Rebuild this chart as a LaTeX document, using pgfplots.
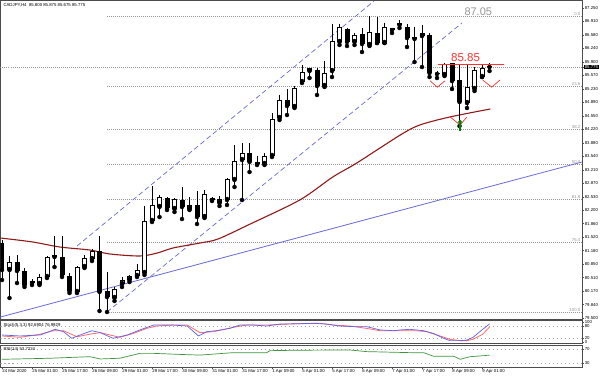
\documentclass[border=0pt]{standalone}
\usepackage{pgfplots}
\pgfplotsset{compat=1.18}
\usepackage{pgfplotstable}
\usepackage{fontspec}
\setmainfont{Liberation Sans}
\usetikzlibrary{arrows.meta}

\definecolor{chblue}{RGB}{105,105,215}
\definecolor{marun}{RGB}{145,25,25}
\definecolor{stblue}{RGB}{95,95,235}
\definecolor{stred}{RGB}{255,105,105}
\definecolor{rsigreen}{RGB}{60,150,60}
\definecolor{fibgray}{RGB}{150,150,150}
\definecolor{sigred}{RGB}{250,50,50}

\pgfplotstableread{
i O H L C
0 81.375 81.45 80.45 80.70
1 80.70 81.05 80.00 80.90
2 80.90 81.075 80.375 80.675
3 80.675 80.75 80.275 80.325
4 80.425 80.475 80.325 80.375
5 80.35 80.60 80.325 80.525
6 80.525 81.05 80.50 81.025
7 81.025 81.55 80.775 81.075
8 81.025 81.55 80.525 80.575
9 80.55 80.625 80.125 80.175
10 80.15 80.80 80.125 80.775
11 80.775 81.075 80.75 81.00
12 80.975 81.225 80.925 81.175
13 81.175 81.55 79.675 80.15
14 80.175 80.65 79.65 80.025
15 80.00 80.275 79.925 80.225
16 80.35 80.525 80.275 80.45
17 80.45 80.575 80.40 80.55
18 80.55 80.85 80.525 80.70
19 80.625 82.30 80.575 81.925
20 81.925 82.80 81.90 82.325
21 82.275 82.575 82.025 82.525
22 82.50 82.525 82.20 82.25
23 82.225 82.50 82.15 82.475
24 82.45 82.775 81.975 82.275
25 82.225 82.525 82.20 82.325
26 82.325 82.675 81.85 82.025
27 82.025 82.70 82.00 82.60
28 82.50 82.525 82.425 82.45
29 82.375 82.55 82.30 82.475
30 82.45 83.00 82.325 82.975
31 82.95 83.825 82.775 83.425
32 83.45 83.875 82.45 83.625
33 83.625 83.875 83.15 83.40
34 83.40 83.55 83.325 83.35
35 83.35 83.625 83.325 83.55
36 83.55 84.625 83.525 84.475
37 84.50 85.075 84.45 84.95
38 84.95 85.225 84.575 84.80
39 84.775 85.30 84.75 85.25
40 85.40 85.825 85.375 85.65
41 85.675 85.75 85.50 85.75
42 85.70 85.75 85.075 85.30
43 85.30 85.925 85.275 85.625
44 85.675 86.85 85.525 86.425
45 86.40 86.85 86.325 86.775
46 86.725 86.75 86.30 86.40
47 86.40 86.625 86.325 86.575
48 86.60 86.75 86.15 86.35
49 86.325 87.05 86.30 86.65
50 86.625 87.025 86.375 86.375
51 86.375 86.875 86.375 86.775
52 86.70 86.75 86.625 86.75
53 86.825 86.95 86.75 86.875
54 86.775 86.85 86.275 86.50
55 86.475 86.775 85.90 86.525
56 86.55 86.825 85.775 86.625
57 86.575 86.625 85.525 85.625
58 85.625 85.675 85.50 85.60
59 85.575 85.875 85.55 85.85
60 85.875 85.875 85.225 85.425
61 85.45 85.825 84.30 84.90
62 84.875 85.825 84.75 85.275
63 85.225 85.775 85.175 85.70
64 85.525 85.825 85.525 85.75
65 85.80 85.875 85.675 85.775
}\ohlc

\newcommand{\mtfont}{\fontsize{4.3}{5}\selectfont}

\pgfplotsset{
  mtbase/.style={scale only axis, width=581.5pt, xmin=-0.2, xmax=77.33, anchor=south west,
    axis line style={draw=black!70, line width=0.5pt},
    xtick=\empty, ytick pos=right, yticklabel pos=right, tick align=outside,
    major tick length=2pt, tick style={black!70, line width=0.4pt},
    yticklabel style={font=\mtfont, anchor=west, inner sep=0.6pt},
    clip mode=individual},
}

\begin{document}
\begin{tikzpicture}
\fill[white] (0,0) rectangle (600pt,376pt);
\path[use as bounding box] (0,0) rectangle (600pt,376pt);

% ---------------- main price panel ----------------
\begin{axis}[mtbase, at={(0.5pt,56.5pt)}, height=319pt,
  ymin=79.4625, ymax=87.4375,
  ytick={87.250,86.913,86.576,86.239,85.902,85.565,85.228,84.891,84.554,84.217,83.880,83.543,83.206,82.869,82.532,82.195,81.858,81.521,81.184,80.847,80.510,80.173,79.836,79.499},
  yticklabels={87.250,86.910,86.580,86.240,85.900,85.570,85.230,84.890,84.550,84.220,83.880,83.540,83.210,82.870,82.530,82.200,81.860,81.520,81.180,80.850,80.510,80.170,79.840,79.500},
  extra y ticks={85.775}, extra y tick labels={85.775},
  extra y tick style={tick label style={fill=black, text=white, inner sep=0.7pt}},
]
% fibonacci levels
\addplot[fibgray, line width=0.5pt, dash pattern=on 1pt off 1pt] coordinates {(14,87.05) (77.33,87.05)};
\addplot[fibgray, line width=0.5pt, dash pattern=on 1pt off 1pt] coordinates {(14,85.3036) (77.33,85.3036)};
\addplot[fibgray, line width=0.5pt, dash pattern=on 1pt off 1pt] coordinates {(14,84.2232) (77.33,84.2232)};
\addplot[fibgray, line width=0.5pt, dash pattern=on 1pt off 1pt] coordinates {(14,83.35) (77.33,83.35)};
\addplot[fibgray, line width=0.5pt, dash pattern=on 1pt off 1pt] coordinates {(14,82.4768) (77.33,82.4768)};
\addplot[fibgray, line width=0.5pt, dash pattern=on 1pt off 1pt] coordinates {(14,81.3964) (77.33,81.3964)};
\addplot[fibgray, line width=0.5pt, dash pattern=on 1pt off 1pt] coordinates {(14,79.65) (77.33,79.65)};
% current price line
\addplot[fibgray, line width=0.5pt, dash pattern=on 1pt off 1pt] coordinates {(-0.2,85.775) (77.33,85.775)};

% trend line and channel
\addplot[chblue, line width=0.8pt] coordinates {(-0.2,79.525) (77.33,83.40)};
\addplot[chblue, line width=0.7pt, dash pattern=on 5pt off 3pt] coordinates {(10,81.30) (49.6,87.425)};
\addplot[chblue, line width=0.7pt, dash pattern=on 5pt off 3pt] coordinates {(14,79.65) (61.33,86.875)};

% moving average
\addplot[marun, line width=1.1pt, smooth] coordinates {
(-0.2,81.50) (4.1,81.40) (7.7,81.275) (11.7,81.20) (14.4,81.10) (18.4,81.05) (20.7,81.125) (22.8,81.25) (26.4,81.375) (28.8,81.475) (33.1,81.85) (39.7,82.45) (44.1,83.025) (47.3,83.375) (53.1,84.075) (55.7,84.325) (59.7,84.525) (65.1,84.725)};

% candles: wicks
\addplot[only marks, mark=none, forget plot, error bars/.cd, y dir=plus, y explicit, error mark=none,
  error bar style={black, line width=0.9pt}]
  table[x=i, y=L, y error plus expr={\thisrow{H}-\thisrow{L}}] {\ohlc};
% candle bodies (outline / black fill)
\addplot[only marks, mark=none, forget plot, error bars/.cd, y dir=plus, y explicit, error mark=none,
  error bar style={black, line width=5pt}]
  table[x=i, y expr={min(\thisrow{O},\thisrow{C})}, y error plus expr={max(abs(\thisrow{C}-\thisrow{O}),0.025)}] {\ohlc};
% white interiors of rising candles
\addplot[only marks, mark=none, forget plot, restrict expr to domain={\thisrow{C}-\thisrow{O}}{0.051:100},
  error bars/.cd, y dir=plus, y explicit, error mark=none,
  error bar style={white, line width=3pt}]
  table[x=i, y expr={\thisrow{O}+0.025}, y error plus expr={\thisrow{C}-\thisrow{O}-0.05}] {\ohlc};

% signal marks
\addplot[sigred, line width=0.8pt] coordinates {(58.1,85.85) (66.9,85.85)};
\addplot[sigred, line width=0.7pt] coordinates {(57.07,85.43) (58.04,85.27) (59.07,85.43)};
\addplot[sigred, line width=0.7pt] coordinates {(59.73,84.53) (61.07,84.325) (61.96,84.52)};
\addplot[sigred, line width=0.7pt] coordinates {(64.09,85.45) (65.29,85.27) (66.4,85.45)};
\addplot[green!50!black, line width=1.4pt, -{Triangle[width=5pt,length=3pt]}] coordinates {(61.07,84.18) (61.07,84.46)};

% labels
\node[font=\fontsize{11}{12}\selectfont, text=fibgray] at (axis cs:63.5,87.16) {87.05};
\node[font=\fontsize{11.5}{12}\selectfont, text=sigred] at (axis cs:61.8,86.00) {85.85};
\node[font=\mtfont, anchor=west, inner sep=0.5pt] at (rel axis cs:0.004,0.985) {CADJPY,H4\ \ 85.800 85.875 85.675 85.775};
\node[font=\mtfont, text=fibgray, anchor=south east, inner sep=0.6pt] at (axis cs:77.2,87.05) {0.0};
\node[font=\mtfont, text=fibgray, anchor=south east, inner sep=0.6pt] at (axis cs:77.2,85.3036) {23.6};
\node[font=\mtfont, text=fibgray, anchor=south east, inner sep=0.6pt] at (axis cs:77.2,84.2232) {38.2};
\node[font=\mtfont, text=fibgray, anchor=south east, inner sep=0.6pt] at (axis cs:77.2,83.35) {50.0};
\node[font=\mtfont, text=fibgray, anchor=south east, inner sep=0.6pt] at (axis cs:77.2,82.4768) {61.8};
\node[font=\mtfont, text=fibgray, anchor=south east, inner sep=0.6pt] at (axis cs:77.2,81.3964) {76.4};
\node[font=\mtfont, text=fibgray, anchor=south east, inner sep=0.6pt] at (axis cs:77.2,79.65) {100.0};
\end{axis}

% ---------------- stochastic ----------------
\begin{axis}[mtbase, at={(0.5pt,33pt)}, height=22.5pt, ymin=-5.13, ymax=110.3,
  ytick={100,80,20,0}, yticklabels={100,80,20,0}]
\addplot[black!35, line width=0.4pt, dash pattern=on 1.5pt off 2.5pt] coordinates {(-0.2,80) (77.33,80)};
\addplot[black!35, line width=0.4pt, dash pattern=on 1.5pt off 2.5pt] coordinates {(-0.2,20) (77.33,20)};
\addplot[stred, line width=0.8pt] coordinates {(0,31)(2.4,24)(5.1,40)(6.8,58)(8.2,58)(10,27)(11.7,40)(13.1,48)(15.7,24)(17.5,44)(19.3,70)(20.6,82)(22.8,87)(24.7,87)(26.4,48)(28.2,53)(30.8,75)(32.6,87)(35.3,87)(38,92)(39.7,94)(42.4,96)(44.2,87)(46.4,82)(48.6,70)(50.4,58)(53.1,58)(55.3,58)(56.6,53)(58.4,31)(59.7,14)(61.1,7)(62,7)(62.8,14)(64.1,40)(65,77)};
\addplot[stblue, line width=0.7pt] coordinates {(0,36)(2.4,31)(5.1,36)(7.1,65)(8.2,53)(9.3,19)(10.4,36)(12,58)(13.1,48)(14.8,19)(16.7,36)(18.4,62)(20.2,87)(22.8,87)(24.7,82)(26.2,31)(27.3,53)(28.6,58)(30.4,70)(31.7,87)(33.5,87)(35.3,82)(37,92)(39.7,94)(41.5,96)(43.3,92)(45,82)(46.8,79)(48.6,79)(50.4,62)(52.2,58)(53.1,62)(54.4,65)(56.2,58)(57.5,44)(58.9,19)(59.7,7)(61.1,7)(62,10)(62.8,24)(64,62)(65,92.7)};
\node[font=\mtfont, anchor=west, inner sep=0.5pt] at (rel axis cs:0.004,0.78) {Stoch(5,3,3) 92.6904 76.9929};
\end{axis}

% ---------------- RSI ----------------
\begin{axis}[mtbase, at={(0.5pt,9pt)}, height=22pt, ymin=20, ymax=82.86,
  ytick={70,30}, yticklabels={70,30},
  xtick={0,4,...,64}, xtick pos=bottom,
  xticklabels={24 Mar 2020,25 Mar 01:00,25 Mar 17:00,26 Mar 09:00,29 Mar 01:00,29 Mar 17:00,30 Mar 09:00,31 Mar 01:00,31 Mar 17:00,1 Apr 09:00,5 Apr 01:00,5 Apr 17:00,6 Apr 09:00,7 Apr 01:00,7 Apr 17:00,8 Apr 09:00,9 Apr 01:00},
  xticklabel style={font=\mtfont, anchor=north west, inner sep=0.5pt, xshift=-0.3pt}]
\addplot[black!35, line width=0.4pt, dash pattern=on 1.5pt off 2.5pt] coordinates {(-0.2,70) (77.33,70)};
\addplot[black!35, line width=0.4pt, dash pattern=on 1.5pt off 2.5pt] coordinates {(-0.2,30) (77.33,30)};
\addplot[rsigreen, line width=0.7pt] coordinates {(0,42)(6.4,45)(11.7,49.5)(13.1,43)(15.7,45)(18.4,59)(20.2,59)(23.7,56)(26.4,54)(30.8,61)(35.3,61)(35.7,66.7)(39.7,68)(46.4,68.6)(48.6,64)(54.4,61)(56.2,61)(57.5,51)(60.2,51)(61.1,42)(62.4,49.5)(65,53.7)};
\node[font=\mtfont, anchor=west, inner sep=0.5pt] at (rel axis cs:0.004,0.82) {RSI(14) 53.7224};
\end{axis}
\end{tikzpicture}
\end{document}
